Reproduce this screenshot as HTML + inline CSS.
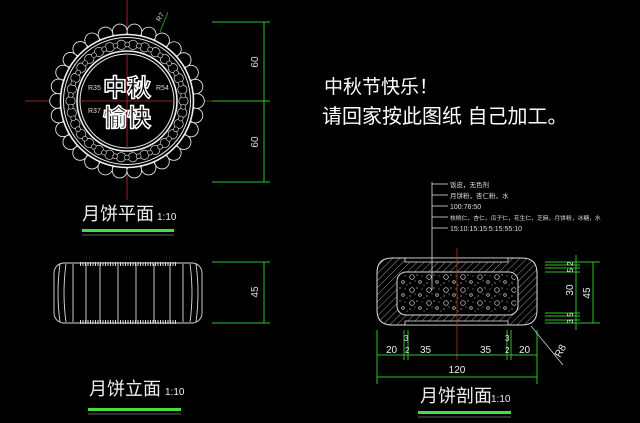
<!DOCTYPE html>
<html><head><meta charset="utf-8"><style>
html,body{margin:0;padding:0;background:#000;width:640px;height:423px;overflow:hidden}
svg{display:block}
text{font-family:"Liberation Sans","Noto Sans CJK SC",sans-serif}
</style></head><body>
<svg width="640" height="423" viewBox="0 0 640 423" xmlns="http://www.w3.org/2000/svg">
<rect width="640" height="423" fill="#000"/>
<defs>
<pattern id="hatch" width="5" height="5" patternUnits="userSpaceOnUse" patternTransform="rotate(45)">
<line x1="0" y1="0" x2="0" y2="5" stroke="#bbb" stroke-width="0.8"/></pattern>
<pattern id="dots" width="17" height="13" patternUnits="userSpaceOnUse">
<circle cx="4" cy="4" r="2.3" fill="none" stroke="#ddd" stroke-width="0.7"/>
<circle cx="12" cy="9" r="1.3" fill="none" stroke="#ddd" stroke-width="0.7"/>
<circle cx="9" cy="2" r="0.6" fill="#ddd"/><circle cx="2" cy="10" r="0.6" fill="#ddd"/>
<circle cx="14" cy="3" r="0.5" fill="#ddd"/><circle cx="7" cy="8" r="0.5" fill="#ddd"/>
<circle cx="16" cy="12" r="0.5" fill="#ddd"/>
</pattern>
</defs>
<!-- plan view -->
<line x1="127" y1="0" x2="127" y2="200" stroke="#c03030" stroke-width="0.8"/>
<line x1="25" y1="101" x2="215" y2="101" stroke="#c03030" stroke-width="0.8"/>
<circle cx="127" cy="101" r="70" fill="none" stroke="#eee" stroke-width="15.5" stroke-dasharray="0 14.66" stroke-linecap="round"/>
<circle cx="127" cy="101" r="70" fill="none" stroke="#000" stroke-width="13.8" stroke-dasharray="0 14.66" stroke-linecap="round"/>
<circle cx="127" cy="101" r="66.5" fill="#000" stroke="#eee" stroke-width="1.6"/>
<circle cx="127" cy="101" r="63.5" fill="none" stroke="#eee" stroke-width="1"/>
<circle cx="127" cy="101" r="56.5" fill="none" stroke="#ddd" stroke-width="10" stroke-dasharray="0 11.83" stroke-linecap="round"/>
<circle cx="127" cy="101" r="56.5" fill="none" stroke="#000" stroke-width="8.6" stroke-dasharray="0 11.83" stroke-linecap="round"/>
<circle cx="127" cy="101" r="56.5" fill="none" stroke="#ddd" stroke-width="5.5" stroke-dasharray="0 11.83" stroke-dashoffset="5.9" stroke-linecap="round"/>
<circle cx="127" cy="101" r="56.5" fill="none" stroke="#000" stroke-width="4.3" stroke-dasharray="0 11.83" stroke-dashoffset="5.9" stroke-linecap="round"/>
<circle cx="127" cy="101" r="50" fill="#000" stroke="#eee" stroke-width="1.6"/>
<circle cx="127" cy="101" r="47" fill="none" stroke="#eee" stroke-width="1"/>
<line x1="127" y1="54" x2="127" y2="148" stroke="#c03030" stroke-width="0.8"/>
<line x1="80" y1="101" x2="174" y2="101" stroke="#c03030" stroke-width="0.8"/>
<text x="127" y="96" font-size="24" font-weight="bold" fill="#000" stroke="#fff" stroke-width="1.5" text-anchor="middle">中秋</text>
<text x="127" y="126" font-size="24" font-weight="bold" fill="#000" stroke="#fff" stroke-width="1.5" text-anchor="middle">愉快</text>
<g fill="#ddd" font-size="7">
<text x="88" y="90">R35</text><text x="88" y="113">R37</text><text x="156" y="90">R54</text><text x="160" y="22" transform="rotate(-60 160 22)">R7</text>
</g>
<line x1="160" y1="32" x2="168" y2="12" stroke="#30c030" stroke-width="0.7"/>
<!-- plan dims -->
<g stroke="#30c030" stroke-width="1" fill="none">
<line x1="212" y1="22" x2="270" y2="22"/><line x1="212" y1="101" x2="270" y2="101"/><line x1="212" y1="182" x2="270" y2="182"/>
<line x1="264" y1="22" x2="264" y2="182"/>
<line x1="212" y1="262" x2="270" y2="262"/><line x1="212" y1="323" x2="270" y2="323"/>
<line x1="264" y1="262" x2="264" y2="323"/>
</g>
<g fill="#ddd" font-size="10">
<text x="258" y="62" transform="rotate(-90 258 62)" text-anchor="middle">60</text>
<text x="258" y="142" transform="rotate(-90 258 142)" text-anchor="middle">60</text>
<text x="258" y="292" transform="rotate(-90 258 292)" text-anchor="middle">45</text>
</g>
<!-- titles -->
<g fill="#eee">
<text x="82" y="220" font-size="18">月饼平面</text><text x="157" y="220" font-size="10">1:10</text>
<text x="89" y="395" font-size="18">月饼立面</text><text x="165" y="395" font-size="10">1:10</text>
<text x="420" y="402" font-size="18">月饼剖面</text><text x="491" y="402" font-size="10">1:10</text>
</g>
<g fill="#40e040"><rect x="82" y="229" width="92" height="3"/><rect x="88" y="408" width="93" height="3"/><rect x="418" y="411" width="93" height="3"/></g>
<g stroke="#bbb" stroke-width="0.6"><line x1="82" y1="235" x2="174" y2="235"/><line x1="88" y1="414" x2="181" y2="414"/><line x1="418" y1="417" x2="511" y2="417"/></g>
<!-- elevation -->
<g fill="none" stroke="#ddd" stroke-width="0.9">
<rect x="54" y="263" width="148" height="60" rx="10"/>
<path d="M60 264 Q56 293 60 322 M66 264 Q62 293 66 322 M190 264 Q194 293 190 322 M196 264 Q200 293 196 322"/>
<line x1="73" y1="264" x2="73" y2="322"/><line x1="86" y1="264" x2="86" y2="322"/><line x1="100" y1="264" x2="100" y2="322"/>
<line x1="118" y1="264" x2="118" y2="322"/><line x1="136" y1="264" x2="136" y2="322"/>
<line x1="154" y1="264" x2="154" y2="322"/><line x1="170" y1="264" x2="170" y2="322"/>
<line x1="183" y1="264" x2="183" y2="322"/>
<line x1="80" y1="264" x2="177" y2="264" stroke-width="4" stroke-dasharray="1 1.5"/>
<line x1="80" y1="322" x2="177" y2="322" stroke-width="4" stroke-dasharray="1 1.5"/>
</g>
<!-- greeting -->
<g fill="#fff" font-size="19">
<text x="324" y="93">中秋节快乐！</text>
<text x="322" y="123" font-size="20">请回家按此图纸 自己加工。</text>
</g>
<!-- section -->
<path d="M392 258 H522 Q537 258 537 273 V310 Q537 325 522 325 H392 Q377 325 377 310 V273 Q377 258 392 258 Z" fill="url(#hatch)" stroke="#ddd"/>
<rect x="397" y="272" width="121" height="43" rx="9" fill="#000" stroke="#ddd"/>
<rect x="399" y="274" width="117" height="39" rx="8" fill="url(#dots)"/>
<g stroke="#ddd" stroke-width="0.8" fill="none">
<rect x="405" y="258" width="103" height="4" fill="#000"/><rect x="405" y="321" width="103" height="4" fill="#000"/>
<line x1="432" y1="182" x2="432" y2="290"/>
<line x1="432" y1="184" x2="448" y2="184"/><line x1="432" y1="195" x2="448" y2="195"/><line x1="432" y1="206" x2="448" y2="206"/><line x1="432" y1="217" x2="448" y2="217"/><line x1="432" y1="228" x2="448" y2="228"/>
</g>
<line x1="457" y1="248" x2="457" y2="360" stroke="#c03030" stroke-width="0.8"/>
<g fill="#ddd" font-size="6.5">
<text x="450" y="187">饭皮，无色剂</text><text x="450" y="198">月饼粉，杏仁粉，水</text><text x="450" y="209" font-size="7">100:76:50</text>
<text x="450" y="220" font-size="5.8">核桃仁，杏仁，瓜子仁，花生仁，芝麻，月饼粉，冰糖，水</text><text x="450" y="231" font-size="7">15:10:15:15:5:15:55:10</text>
</g>
<g stroke="#30c030" stroke-width="1" fill="none">
<line x1="377" y1="330" x2="377" y2="384"/><line x1="537" y1="330" x2="537" y2="384"/>
<line x1="404" y1="330" x2="404" y2="360"/><line x1="408" y1="330" x2="408" y2="360"/><line x1="507" y1="330" x2="507" y2="360"/><line x1="511" y1="330" x2="511" y2="360"/>
<line x1="377" y1="355" x2="537" y2="355"/><line x1="377" y1="377" x2="537" y2="377"/>
<line x1="545" y1="262" x2="600" y2="262"/><line x1="545" y1="323" x2="600" y2="323"/>
<line x1="545" y1="265" x2="580" y2="265"/><line x1="545" y1="268" x2="580" y2="268"/><line x1="545" y1="272" x2="580" y2="272"/>
<line x1="545" y1="313" x2="580" y2="313"/><line x1="545" y1="316" x2="580" y2="316"/><line x1="545" y1="320" x2="580" y2="320"/>
<line x1="576" y1="255" x2="576" y2="330"/><line x1="593" y1="262" x2="593" y2="323"/>
<line x1="531" y1="326" x2="563" y2="365" stroke="#ddd" stroke-width="0.7"/>
</g>
<g fill="#eee" font-size="10">
<text x="386" y="353">20</text><text x="420" y="353">35</text><text x="480" y="353">35</text><text x="519" y="353">20</text>
<text x="404" y="341" font-size="8">3</text><text x="405" y="353" font-size="8">2</text><text x="505" y="341" font-size="8">3</text><text x="505" y="353" font-size="8">2</text>
<text x="457" y="373" text-anchor="middle">120</text>
<text x="573" y="290" transform="rotate(-90 573 290)" text-anchor="middle">30</text>
<text x="590" y="293" transform="rotate(-90 590 293)" text-anchor="middle">45</text>
<text x="573" y="267" transform="rotate(-90 573 267)" text-anchor="middle" font-size="8">5 2</text>
<text x="573" y="318" transform="rotate(-90 573 318)" text-anchor="middle" font-size="8">3 5</text>
<text x="560" y="358" transform="rotate(-60 560 358)" font-size="10">R8</text>
</g>
</svg>
</body></html>
